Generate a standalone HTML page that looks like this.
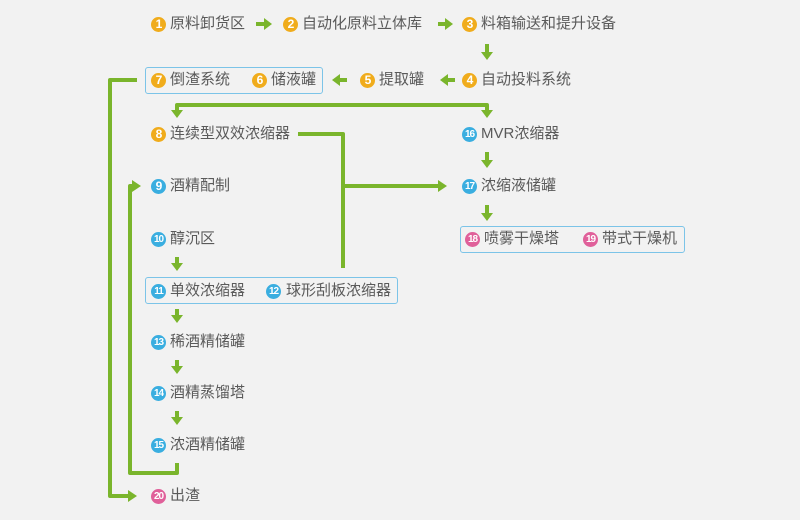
<!DOCTYPE html>
<html><head><meta charset="utf-8"><style>
body{margin:0;width:800px;height:520px;background:#f2f2f2;position:relative;overflow:hidden;font-family:"Liberation Sans","Noto Sans CJK SC",sans-serif;}
.t{position:absolute;font-size:15px;color:#5a5a5a;line-height:18px;white-space:nowrap;}
.b{position:absolute;width:15px;height:15px;border-radius:50%;color:#fff;font-size:12px;font-weight:bold;line-height:15px;text-align:center;font-family:"Liberation Sans",sans-serif;letter-spacing:-1px;}
.b.d{font-size:10px}
.o{background:#f0ac1c}.c{background:#3aaee0}.p{background:#e0609a}
.box{position:absolute;border:1px solid #7cc4e8;border-radius:3px;}
svg{position:absolute;left:0;top:0}
</style></head><body>
<div class="box" style="left:145px;top:67px;width:176px;height:25px"></div>
<div class="box" style="left:145px;top:277px;width:251px;height:25px"></div>
<div class="box" style="left:460px;top:226px;width:223px;height:25px"></div>
<svg width="800" height="520">
<g fill="none" stroke="#7ab52c" stroke-width="4" stroke-linejoin="round">
<path d="M256 24H266"/><path d="M438 24H447"/><path d="M487 44V54"/>
<path d="M455 80H446"/><path d="M347 80H338"/>
<path d="M137 80H110V496H130"/>
<path d="M487 115V105H177V112"/>
<path d="M298 134H343V268"/><path d="M343 186H440"/>
<path d="M487 152V162"/><path d="M487 205V215"/>
<path d="M177 463V473H130V186H134"/>
<path d="M177 257V265"/><path d="M177 309V317"/><path d="M177 360V368"/><path d="M177 411V419"/>
</g>
<g fill="#7ab52c">
<path d="M264 18L272 24L264 30Z"/><path d="M445 18L453 24L445 30Z"/>
<path d="M481 52L487 60L493 52Z"/>
<path d="M448 74L440 80L448 86Z"/><path d="M340 74L332 80L340 86Z"/>
<path d="M128 490L137 496L128 502Z"/>
<path d="M171 110L177 118L183 110Z"/><path d="M481 110L487 118L493 110Z"/>
<path d="M438 180L447 186L438 192Z"/>
<path d="M481 160L487 168L493 160Z"/><path d="M481 213L487 221L493 213Z"/>
<path d="M132 180L141 186L132 192Z"/>
<path d="M171 263L177 271L183 263Z"/><path d="M171 315L177 323L183 315Z"/>
<path d="M171 366L177 374L183 366Z"/><path d="M171 417L177 425L183 417Z"/>
</g>
</svg>
<div class="b o" style="left:151px;top:17px">1</div><div class="t" style="left:170px;top:15px">原料卸货区</div>
<div class="b o" style="left:283px;top:17px">2</div><div class="t" style="left:302px;top:15px">自动化原料立体库</div>
<div class="b o" style="left:462px;top:17px">3</div><div class="t" style="left:481px;top:15px">料箱输送和提升设备</div>
<div class="b o" style="left:462px;top:73px">4</div><div class="t" style="left:481px;top:71px">自动投料系统</div>
<div class="b o" style="left:360px;top:73px">5</div><div class="t" style="left:379px;top:71px">提取罐</div>
<div class="b o" style="left:252px;top:73px">6</div><div class="t" style="left:271px;top:71px">储液罐</div>
<div class="b o" style="left:151px;top:73px">7</div><div class="t" style="left:170px;top:71px">倒渣系统</div>
<div class="b o" style="left:151px;top:127px">8</div><div class="t" style="left:170px;top:125px">连续型双效浓缩器</div>
<div class="b c d" style="left:462px;top:127px">16</div><div class="t" style="left:481px;top:125px">MVR浓缩器</div>
<div class="b c" style="left:151px;top:179px">9</div><div class="t" style="left:170px;top:177px">酒精配制</div>
<div class="b c d" style="left:462px;top:179px">17</div><div class="t" style="left:481px;top:177px">浓缩液储罐</div>
<div class="b p d" style="left:465px;top:232px">18</div><div class="t" style="left:484px;top:230px">喷雾干燥塔</div>
<div class="b p d" style="left:583px;top:232px">19</div><div class="t" style="left:602px;top:230px">带式干燥机</div>
<div class="b c d" style="left:151px;top:232px">10</div><div class="t" style="left:170px;top:230px">醇沉区</div>
<div class="b c d" style="left:151px;top:284px">11</div><div class="t" style="left:170px;top:282px">单效浓缩器</div>
<div class="b c d" style="left:266px;top:284px">12</div><div class="t" style="left:286px;top:282px">球形刮板浓缩器</div>
<div class="b c d" style="left:151px;top:335px">13</div><div class="t" style="left:170px;top:333px">稀酒精储罐</div>
<div class="b c d" style="left:151px;top:386px">14</div><div class="t" style="left:170px;top:384px">酒精蒸馏塔</div>
<div class="b c d" style="left:151px;top:438px">15</div><div class="t" style="left:170px;top:436px">浓酒精储罐</div>
<div class="b p d" style="left:151px;top:489px">20</div><div class="t" style="left:170px;top:487px">出渣</div>
</body></html>
